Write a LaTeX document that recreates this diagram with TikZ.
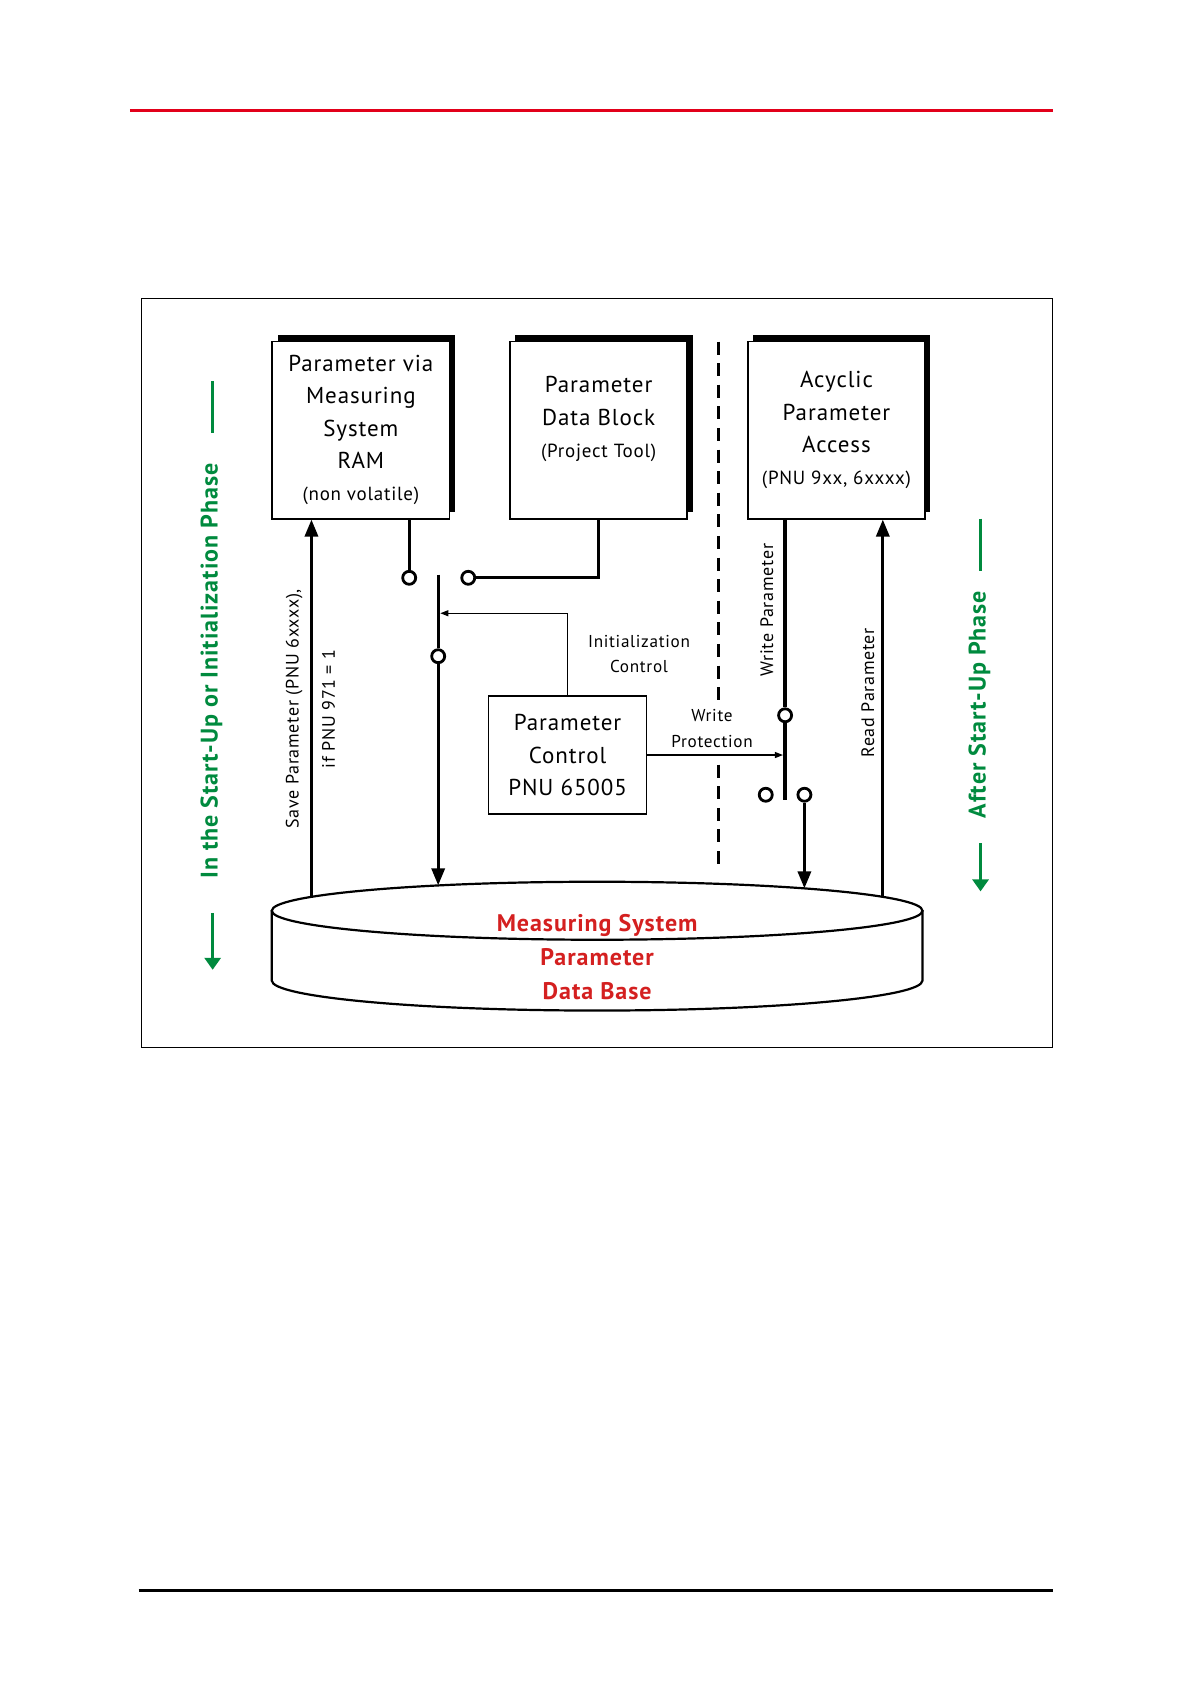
\documentclass[tikz,border=0pt]{standalone}
\usepackage{fontspec}
\setmainfont[LetterSpace=4]{PT Sans}
\usetikzlibrary{arrows.meta,positioning,shadows}

\definecolor{phasegreen}{RGB}{0,138,62}
\definecolor{dbred}{RGB}{212,32,32}
\definecolor{rulered}{RGB}{226,0,26}

\begin{document}
\begin{tikzpicture}[
    x=0.537pt, y=-0.537pt,
    node distance=29.5pt,
    parbox/.style={rectangle, draw, line width=0.8pt, fill=white, minimum width=88.6pt, minimum height=88.6pt, align=center, font=\fontsize{11.5}{16.1}\selectfont, drop shadow={shadow xshift=2.7pt, shadow yshift=3.2pt, fill=black, opacity=1}},
    ctrlbox/.style={rectangle, draw, line width=0.8pt, fill=white, minimum width=79pt, minimum height=59pt, align=center, font=\fontsize{11.5}{16.1}\selectfont},
    term/.style={circle, draw, line width=1.4pt, fill=white, inner sep=0pt, minimum size=6.5pt},
    wire/.style={line width=1.6pt},
    bigarrow/.style={-{Triangle[length=8.5pt,width=6.5pt]}},
    thinarrow/.style={line width=0.6pt, -{Triangle[length=4pt,width=3pt]}},
    rotlabel/.style={rotate=90, inner sep=0pt, font=\fontsize{9}{12}\selectfont},
    smalllabel/.style={align=center, inner sep=0pt, font=\fontsize{8.6}{12.9}\selectfont},
    phase/.style={rotate=90, inner sep=0pt, text=phasegreen, font=\bfseries\fontsize{12}{14}\selectfont},
    phaseline/.style={draw=phasegreen, line width=1.6pt},
    phasearrow/.style={-{Triangle[length=6pt,width=8pt]}},
    sepline/.style={line width=1.4pt, dash pattern=on 6.5pt off 4.3pt},
    dbline/.style={line width=1.1pt},
    dbtext/.style={align=center, text=dbred, font=\bfseries\fontsize{12}{17}\selectfont}
]
  \useasboundingbox (0,0) rectangle (1109,1568);
  % Page rules and frame
  \draw[rulered, line width=1.3pt] (121,103) -- (980,103);
  \draw[line width=1.6pt] (129,1481) -- (980,1481);
  \draw[line width=0.6pt] (132,278) rectangle (980,975);

  % Boxes
  \node[parbox] (ram) at (336,400.5) {Parameter via\\Measuring\\System\\RAM\\{\fontsize{9.5}{12}\selectfont(non volatile)}};
  \node[parbox, right=of ram] (pdb) {Parameter\\Data Block\\{\fontsize{9.5}{12}\selectfont(Project Tool)}\\[-3pt]\mbox{}};
  \node[parbox, right=of pdb] (aca) {Acyclic\\Parameter\\Access\\{\fontsize{9.5}{12}\selectfont(PNU 9xx, 6xxxx)}};
  \node[ctrlbox] (pnu) at (528.5,703) {Parameter\\Control\\PNU 65005};

  % Switch contacts
  \node[term] (t-ram) at (381,538) {};
  \node[term] (t-pdb) at (436,538) {};
  \node[term] (t-sw) at (408,611) {};
  \node[term] (t-wp) at (731,666) {};
  \node[term] (t-off) at (713,740) {};
  \node[term] (t-db) at (749,740) {};

  % Ends on the data base
  \coordinate (sw-top) at (408,535);
  \coordinate (sw-db) at (408,824.4);
  \coordinate (sw-in) at (410,571);
  \coordinate (wp-end) at (731,745);
  \coordinate (wp-in) at (729,703);
  \coordinate (wr-db) at (749,827.2);
  \coordinate (rd-db) at (822,835);
  \coordinate (sv-db) at (290,835);

  % Connectors
  \draw[wire] (ram.south -| t-ram) -- (t-ram);
  \draw[wire] (pdb.south) |- (t-pdb);
  \draw[wire] (sw-top) -- (t-sw);
  \draw[wire, bigarrow] (t-sw) -- (sw-db);
  \draw[thinarrow] (pnu.north) |- (sw-in);
  \draw[thinarrow] (pnu.east) -- (wp-in);
  \draw[wire] (aca.south -| t-wp) -- (t-wp);
  \draw[wire] (t-wp) -- (wp-end);
  \draw[wire, bigarrow] (t-db) -- (wr-db);
  \draw[wire, bigarrow] (rd-db) -- (aca.south -| rd-db);
  \draw[wire, bigarrow] (sv-db) -- (ram.south -| sv-db);
  \draw[sepline] (669,318) -- (669,652);
  \draw[sepline] (669,712) -- (669,812);

  % Labels
  \node[rotlabel] (lbl-save) at (274,660) {Save Parameter (PNU 6xxxx),};
  \node[rotlabel] (lbl-if) at (306,660) {if PNU 971 = 1};
  \node[rotlabel] (lbl-write) at (714,568) {Write Parameter};
  \node[rotlabel] (lbl-read) at (808,645) {Read Parameter};
  \node[smalllabel] (lbl-init) at (595,609) {Initialization\\Control};
  \node[smalllabel] (lbl-prot) at (663,678) {Write\\Protection};

  % Data base cylinder
  \draw[dbline] (556,848) ellipse[x radius=162.7pt, y radius=14.5pt];
  \draw[dbline] (253,848) -- (253,913) arc[start angle=180, end angle=360, x radius=162.7pt, y radius=15pt] -- (859,848);
  \node[dbtext] (db) at (556,891.5) {Measuring System\\Parameter\\Data Base};

  % Phases
  \node[phase] (ph-init) at (197,625) {In the Start-Up or Initialization Phase};
  \draw[phaseline] (198,355) -- (198,403);
  \draw[phaseline, phasearrow] (198,850) -- (198,903);
  \node[phase] (ph-after) at (912,656) {After Start-Up Phase};
  \draw[phaseline] (913,483) -- (913,532);
  \draw[phaseline, phasearrow] (913,785) -- (913,830);
\end{tikzpicture}
\end{document}
